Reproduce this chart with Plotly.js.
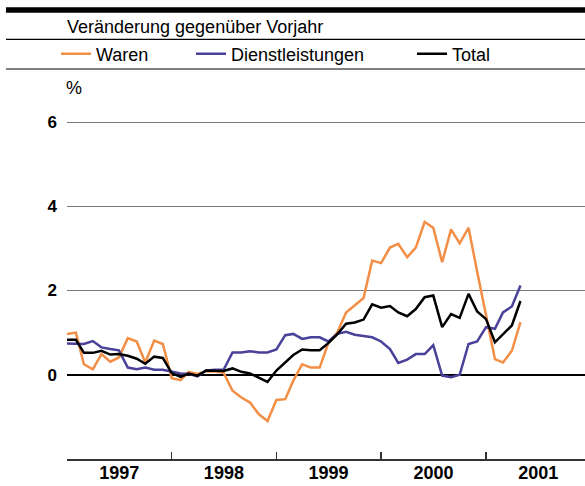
<!DOCTYPE html>
<html>
<head>
<meta charset="utf-8">
<script src="https://cdn.plot.ly/plotly-3.0.1.min.js"></script>
<style>
  html, body { margin: 0; padding: 0; background: #fff; }
  #chart { width: 585px; height: 486px; }
</style>
</head>
<body>
<div id="chart"></div>
<script>
// ---- Data (monthly, Jan 1997 – May 2001), % change vs. previous year ----
const firstYear = 1997;
const yearLabels = ['1997', '1998', '1999', '2000', '2001'];
const seriesNames = ['Waren', 'Dienstleistungen', 'Total'];

const waren = [
  0.97, 1.00, 0.25, 0.13, 0.49, 0.31, 0.41, 0.87, 0.79, 0.29, 0.81, 0.73,
  -0.08, -0.13, 0.07, 0.02, 0.08, 0.08, 0.05, -0.38, -0.54, -0.66, -0.94, -1.10,
  -0.60, -0.58, -0.14, 0.25, 0.17, 0.17, 0.75, 1.00, 1.48, 1.64, 1.82, 2.71,
  2.65, 3.02, 3.11, 2.79, 3.02, 3.63, 3.49, 2.67, 3.45, 3.12, 3.49, 2.45,
  1.40, 0.37, 0.29, 0.57, 1.25
];
const dienstleistungen = [
  0.74, 0.74, 0.73, 0.80, 0.65, 0.61, 0.58, 0.17, 0.13, 0.17, 0.12, 0.12,
  0.08, 0.03, 0.02, -0.04, 0.10, 0.12, 0.12, 0.53, 0.53, 0.56, 0.53, 0.53,
  0.60, 0.94, 0.97, 0.85, 0.89, 0.89, 0.79, 0.97, 1.02, 0.95, 0.92, 0.89,
  0.79, 0.61, 0.28, 0.36, 0.49, 0.49, 0.70, -0.02, -0.06, 0.00, 0.73, 0.79,
  1.13, 1.09, 1.48, 1.62, 2.12
];
const total = [
  0.83, 0.83, 0.52, 0.52, 0.57, 0.48, 0.49, 0.45, 0.38, 0.26, 0.43, 0.40,
  0.04, -0.05, 0.03, -0.02, 0.10, 0.10, 0.09, 0.15, 0.07, 0.03, -0.08, -0.17,
  0.10, 0.29, 0.47, 0.60, 0.58, 0.58, 0.75, 0.96, 1.21, 1.24, 1.31, 1.67,
  1.59, 1.63, 1.48, 1.39, 1.56, 1.84, 1.88, 1.13, 1.44, 1.35, 1.92, 1.50,
  1.32, 0.77, 0.97, 1.17, 1.75
];
const yTicks = [0, 2, 4, 6];

// month dates
const months = waren.map((_, i) => {
  const y = firstYear + Math.floor(i / 12);
  const m = (i % 12) + 1;
  return y + '-' + String(m).padStart(2, '0') + '-01';
});

// ---- Layout geometry helpers ----
const W = 585, H = 486;
const M = { l: 67, r: 0, t: 88, b: 27.3 };
const plotW = W - M.l - M.r, plotH = H - M.t - M.b;
const px2x = px => (px - M.l) / plotW;
const py2y = py => (H - M.b - py) / plotH;

const colors = ['#F28E45', '#4A4199', '#000000'];
const FONT = '"Liberation Sans", Arial, sans-serif';

const traces = [waren, dienstleistungen, total].map((vals, k) => ({
  type: 'scatter', mode: 'lines',
  x: months, y: vals, name: seriesNames[k],
  line: { color: colors[k], width: 2.5 },
  legend: k === 0 ? 'legend' : 'legend' + (k + 1),
  hoverinfo: 'skip'
}));

const legendBase = {
  orientation: 'h', xanchor: 'left', yanchor: 'middle',
  y: py2y(54), bgcolor: 'rgba(0,0,0,0)', borderwidth: 0,
  font: { family: FONT, size: 18, color: '#000' }, itemclick: false
};

const layout = {
  width: W, height: H,
  margin: { l: M.l, r: M.r, t: M.t, b: M.b, pad: 0, autoexpand: false },
  paper_bgcolor: '#fff', plot_bgcolor: '#fff',
  showlegend: true,
  title: {
    text: 'Veränderung gegenüber Vorjahr',
    font: { family: FONT, size: 18, color: '#000' },
    xref: 'paper', x: 0, xanchor: 'left',
    yref: 'container', y: 1 - 27 / H, yanchor: 'middle', pad: { t: 0, b: 0, l: 0, r: 0 }
  },
  legend: Object.assign({}, legendBase, { x: px2x(56) }),
  legend2: Object.assign({}, legendBase, { x: px2x(191) }),
  legend3: Object.assign({}, legendBase, { x: px2x(412) }),
  xaxis: {
    type: 'date',
    range: ['1997-01-01', '2001-12-12'],
    showgrid: false, zeroline: false,
    showline: true, linecolor: '#333', linewidth: 1.5,
    tickmode: 'array',
    tickvals: yearLabels.map(y => y + '-07-02'),
    ticktext: yearLabels,
    ticks: '', ticklabelstandoff: -3,
    tickfont: { family: FONT, size: 18, color: '#000', weight: 'bold' },
    minor: {
      tickmode: 'array',
      tickvals: yearLabels.slice(1).map(y => y + '-01-01'),
      ticks: 'inside', ticklen: 7, tickwidth: 1.2, tickcolor: '#333', showgrid: false
    },
    fixedrange: true
  },
  yaxis: {
    range: [-2, 6 + (122 - M.t) / 42.09],
    tickmode: 'array', tickvals: yTicks, ticktext: yTicks.map(String),
    showgrid: true, gridcolor: '#7a7a7a', gridwidth: 1,
    zeroline: true, zerolinecolor: '#000', zerolinewidth: 1.5,
    showline: false, ticks: '', ticklabelstandoff: 9,
    tickfont: { family: FONT, size: 17, color: '#000', weight: 'bold' },
    fixedrange: true
  },
  annotations: [{
    text: '%', xref: 'paper', yref: 'paper', x: px2x(64), y: py2y(88),
    xanchor: 'left', yanchor: 'middle', showarrow: false,
    font: { family: FONT, size: 18, color: '#000' }
  }],
  shapes: [
    { type: 'rect', xref: 'paper', yref: 'paper', x0: px2x(6), x1: px2x(585),
      y0: py2y(12.7), y1: py2y(7.3), fillcolor: '#000', line: { width: 0 } },
    { type: 'line', xref: 'paper', yref: 'paper', x0: px2x(6), x1: px2x(585),
      y0: py2y(39.5), y1: py2y(39.5), line: { color: '#000', width: 1.2 } },
    { type: 'line', xref: 'paper', yref: 'paper', x0: px2x(6), x1: px2x(585),
      y0: py2y(69), y1: py2y(69), line: { color: '#000', width: 1.2 } }
  ]
};

Plotly.newPlot('chart', traces, layout, { displayModeBar: false, staticPlot: true });
</script>
</body>
</html>
